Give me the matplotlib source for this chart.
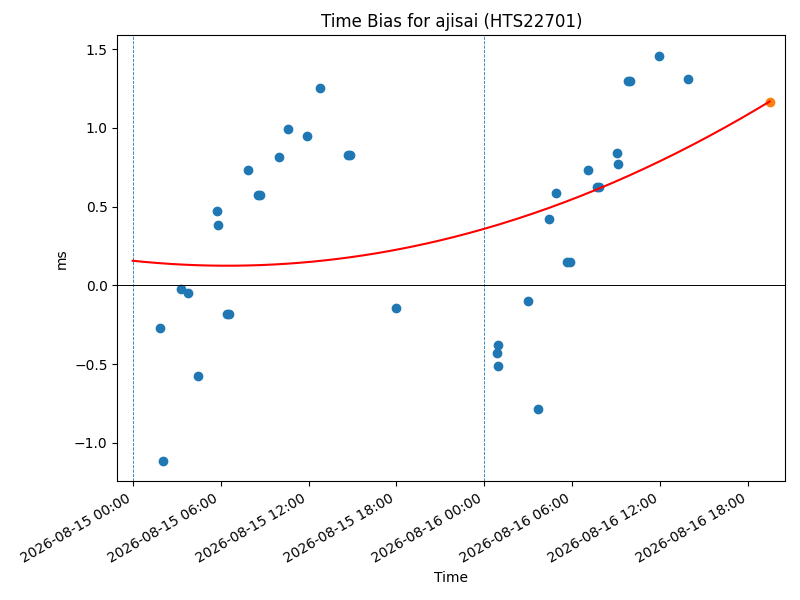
import numpy as np
import pandas as pd
import matplotlib
matplotlib.use("Agg")
import matplotlib.pyplot as plt
import matplotlib.dates as mdates

# Observed time bias (ms) per pass
obs_times = ['2026-08-15 01:50', '2026-08-15 02:06', '2026-08-15 03:16',
             '2026-08-15 03:48', '2026-08-15 04:29', '2026-08-15 05:47',
             '2026-08-15 05:51', '2026-08-15 06:26', '2026-08-15 06:35',
             '2026-08-15 07:53', '2026-08-15 08:32', '2026-08-15 08:40',
             '2026-08-15 10:01', '2026-08-15 10:37', '2026-08-15 11:55',
             '2026-08-15 12:47', '2026-08-15 14:40', '2026-08-15 14:49',
             '2026-08-15 17:59', '2026-08-16 00:52', '2026-08-16 00:56',
             '2026-08-16 00:56', '2026-08-16 02:59', '2026-08-16 03:40',
             '2026-08-16 04:25', '2026-08-16 04:53', '2026-08-16 05:39',
             '2026-08-16 05:52', '2026-08-16 07:04', '2026-08-16 07:40',
             '2026-08-16 07:50', '2026-08-16 09:03', '2026-08-16 09:07',
             '2026-08-16 09:49', '2026-08-16 09:57', '2026-08-16 11:55',
             '2026-08-16 13:53']
obs_bias = [-0.269, -1.115, -0.021,
            -0.047, -0.574, 0.475,
            0.386, -0.18, -0.18,
            0.735, 0.576, 0.576,
            0.818, 0.996, 0.952,
            1.257, 0.831, 0.831,
            -0.146, -0.428, -0.381,
            -0.511, -0.097, -0.784,
            0.424, 0.589, 0.151,
            0.151, 0.735, 0.627,
            0.627, 0.843, 0.773,
            1.301, 1.301, 1.46,
            1.308]

# Predicted bias at the end of the fit
pred_time = '2026-08-16 19:28'
pred_bias = 1.168

# Quadratic fit coefficients (hours since fit start -> ms), highest power first
fit_start = '2026-08-15 00:00'
fit_coef = [0.0007607, -0.0098, 0.157]

day_lines = ['2026-08-15 00:00', '2026-08-16 00:00']
xlim_times = ['2026-08-14 22:57', '2026-08-16 20:32']

t = pd.to_datetime(obs_times)
t0 = pd.Timestamp(fit_start)
tp = pd.Timestamp(pred_time)

fit_hours = np.linspace(0, (tp - t0) / pd.Timedelta(hours=1), 200)
fit_t = t0 + pd.to_timedelta(fit_hours, unit='h')
fit_y = np.polyval(fit_coef, fit_hours)

fig, ax = plt.subplots(figsize=(8, 6), dpi=100)
for d in day_lines:
    ax.axvline(pd.Timestamp(d), color='C0', linestyle='--', linewidth=0.6)
ax.axhline(0, color='k', linewidth=0.7)
ax.scatter(t, obs_bias, color='C0')
ax.plot(fit_t, fit_y, color='red')
ax.scatter([tp], [pred_bias], color='C1')

ax.set_xlim(pd.Timestamp(xlim_times[0]), pd.Timestamp(xlim_times[1]))
ax.xaxis.set_major_locator(mdates.HourLocator(byhour=[0, 6, 12, 18]))
ax.xaxis.set_major_formatter(mdates.DateFormatter('%Y-%m-%d %H:%M'))
ax.set_title("Time Bias for ajisai (HTS22701)")
ax.set_xlabel("Time")
ax.set_ylabel("ms")
fig.autofmt_xdate()
fig.subplots_adjust(left=0.1466, right=0.9816, top=0.9412, bottom=0.1978)
fig.savefig("out.png")
